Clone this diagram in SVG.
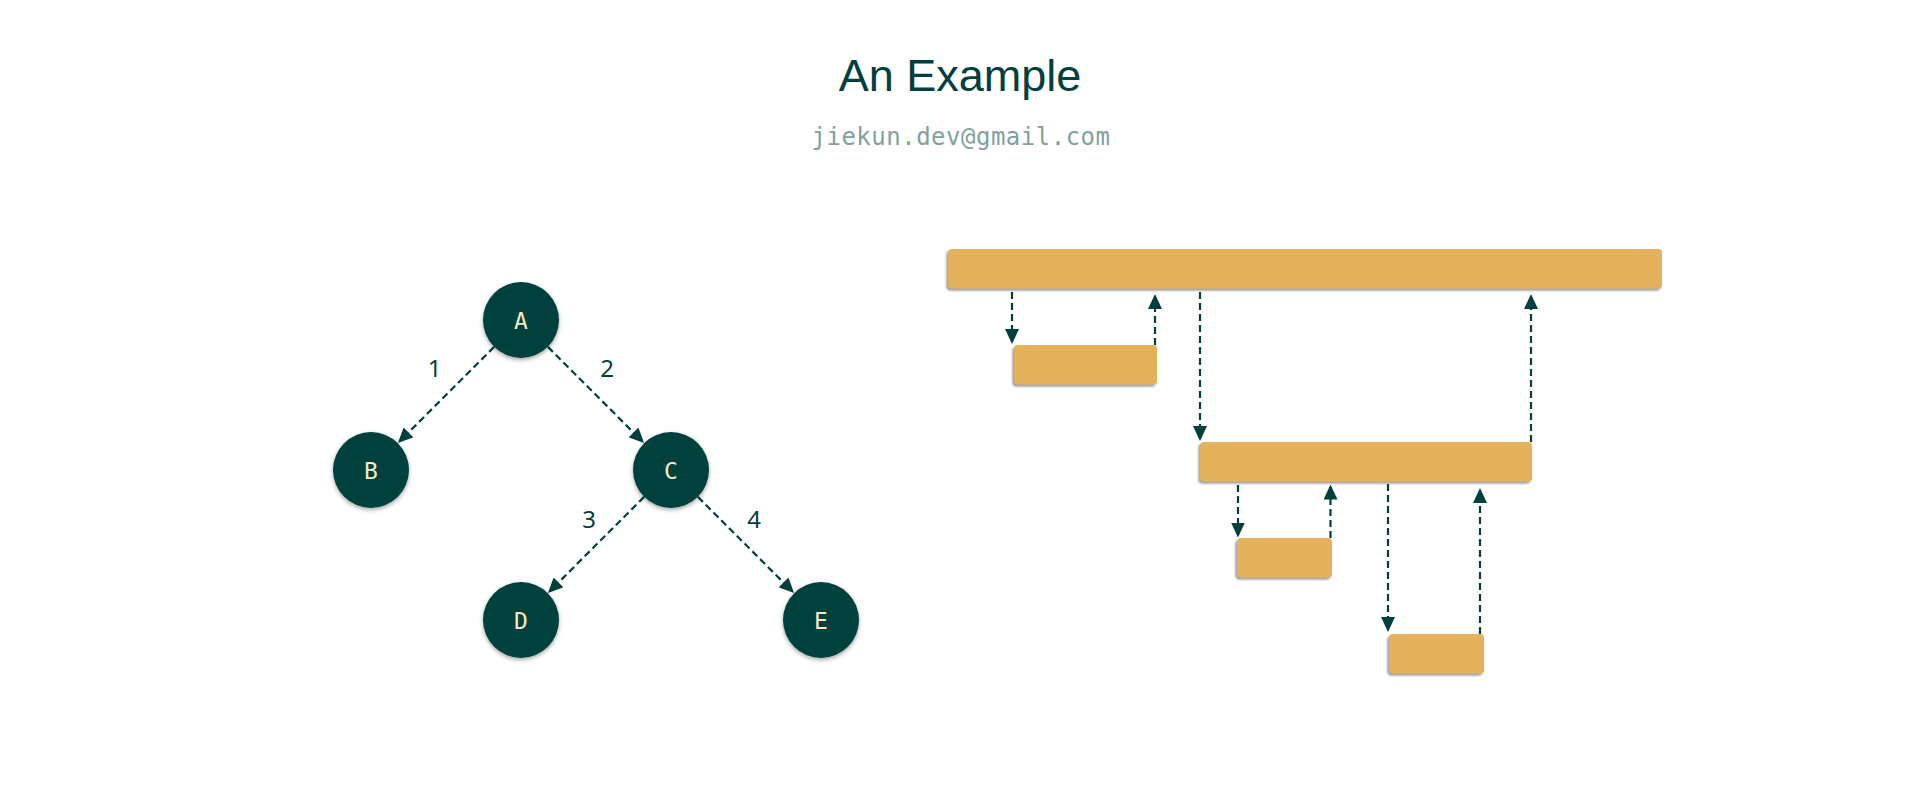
<svg xmlns="http://www.w3.org/2000/svg" width="1920" height="800" viewBox="0 0 1920 800">
  <defs>
    <style>
      .title { font-family: "Liberation Sans", Arial, sans-serif; font-size: 45px; fill: #03403d; }
      .email { font-family: "DejaVu Sans Mono", "Liberation Mono", monospace; font-size: 24px; letter-spacing: 0.5px; fill: #82a19e; }
      .node circle { fill: #03403d; filter: url(#cshadow); }
      .node text { font-family: "DejaVu Sans Mono", "Liberation Mono", monospace; font-size: 23px; fill: #f6e8c6; text-anchor: middle; }
      .bar rect { fill: #e3b25c; filter: url(#rshadow); }
      .edge { stroke: #03403d; stroke-width: 2.2; stroke-dasharray: 7 4; fill: none; marker-end: url(#arrow); }
      .elabel { font-family: "Noto Sans", "Open Sans", sans-serif; font-size: 24px; fill: #03403d; text-anchor: middle; }
    </style>
    <marker id="arrow" markerUnits="userSpaceOnUse" markerWidth="15" markerHeight="14" viewBox="0 0 15 14" refX="12.5" refY="7" orient="auto">
      <path d="M0,0 L15,7 L0,14 z" fill="#03403d"/>
    </marker>
    <filter id="cshadow" x="-30%" y="-30%" width="160%" height="170%">
      <feDropShadow dx="0" dy="2" stdDeviation="2" flood-color="#000" flood-opacity="0.35"/>
    </filter>
    <filter id="rshadow" x="-10%" y="-30%" width="120%" height="170%">
      <feDropShadow dx="-1.5" dy="2" stdDeviation="1" flood-color="#3a3a3a" flood-opacity="0.55"/>
    </filter>
  </defs>

  <rect width="1920" height="800" fill="#ffffff"/>

  <text class="title" x="960" y="91" text-anchor="middle">An Example</text>
  <text class="email" x="961" y="145" text-anchor="middle">jiekun.dev@gmail.com</text>

  <g id="connectors">
    <line class="edge" x1="494.1" y1="346.9" x2="399.7" y2="441.3"/>
    <line class="edge" x1="547.9" y1="346.9" x2="642.3" y2="441.3"/>
    <line class="edge" x1="644.1" y1="496.9" x2="549.7" y2="591.3"/>
    <line class="edge" x1="697.9" y1="496.9" x2="792.3" y2="591.3"/>

    <line class="edge" x1="1012" y1="292" x2="1012" y2="341.5"/>
    <line class="edge" x1="1155" y1="345" x2="1155" y2="296.5"/>
    <line class="edge" x1="1200" y1="292" x2="1200" y2="438.5"/>
    <line class="edge" x1="1531" y1="442" x2="1531" y2="296.5"/>
    <line class="edge" x1="1238" y1="485" x2="1238" y2="535"/>
    <line class="edge" x1="1330.5" y1="538" x2="1330.5" y2="487"/>
    <line class="edge" x1="1388" y1="484" x2="1388" y2="629.5"/>
    <line class="edge" x1="1480" y1="634" x2="1480" y2="490.5"/>
  </g>

  <g id="edge-labels">
    <text class="elabel" x="434.5" y="377">1</text>
    <text class="elabel" x="607" y="377">2</text>
    <text class="elabel" x="589" y="528">3</text>
    <text class="elabel" x="754" y="528">4</text>
  </g>

  <g id="node-A" class="node"><circle cx="521" cy="320" r="38"/><text x="521" y="328.5">A</text></g>
  <g id="node-B" class="node"><circle cx="371" cy="470" r="38"/><text x="371" y="478.5">B</text></g>
  <g id="node-C" class="node"><circle cx="671" cy="470" r="38"/><text x="671" y="478.5">C</text></g>
  <g id="node-D" class="node"><circle cx="521" cy="620" r="38"/><text x="521" y="628.5">D</text></g>
  <g id="node-E" class="node"><circle cx="821" cy="620" r="38"/><text x="821" y="628.5">E</text></g>

  <g id="bar-0" class="bar"><rect x="948" y="249" width="714" height="39.5" rx="4"/></g>
  <g id="bar-1" class="bar"><rect x="1014" y="345" width="143" height="39.5" rx="4"/></g>
  <g id="bar-2" class="bar"><rect x="1200" y="442" width="332" height="39.5" rx="4"/></g>
  <g id="bar-3" class="bar"><rect x="1237" y="538" width="95" height="39.5" rx="4"/></g>
  <g id="bar-4" class="bar"><rect x="1389" y="634" width="95" height="39.5" rx="4"/></g>
</svg>
